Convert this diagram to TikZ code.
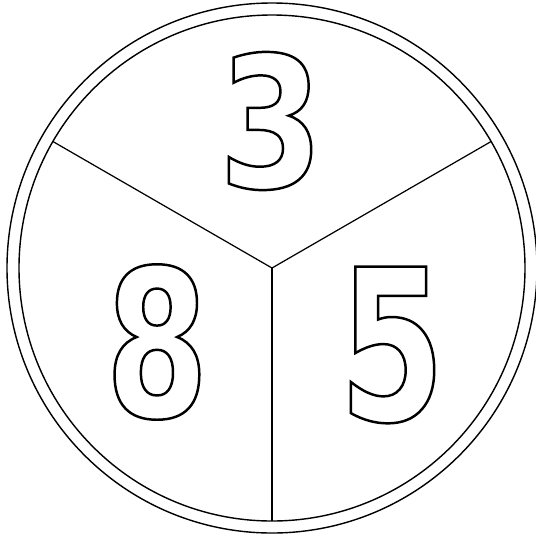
\documentclass[tikz,border=0pt]{standalone}
\usepackage{fontspec}
\usetikzlibrary{positioning}
\newfontfamily\digitfont{DejaVu Sans}[FakeStretch=0.72]
\newfontfamily\widedigitfont{DejaVu Sans}[FakeStretch=0.82]
\newcommand\hollow[1]{\special{pdf:literal direct 1 Tr 1.4 w}#1\special{pdf:literal direct 0 Tr}}

\begin{document}
\begin{tikzpicture}[
  x=0.02cm, y=0.02cm,
  ring/.style={draw, line width=0.8pt},
  divider/.style={draw, line width=0.7pt},
  numeral/.style={inner sep=0pt}
]
\useasboundingbox (-272,-267) rectangle (264,268);

% rings
\draw[ring] (0,0) circle (265);
\draw[ring] (0,0) circle (253);

% three sectors
\coordinate (hub) at (0,0);
\coordinate (tl) at (150:253);
\coordinate (tr) at (30:253);
\coordinate (bt) at (270:253);
\draw[divider] (hub)--(tl);
\draw[divider] (hub)--(tr);
\draw[divider] (hub)--(bt);

\node[numeral, font=\widedigitfont\bfseries\fontsize{104}{104}\selectfont] (three) at (-1,147) {\hollow{3}};
\node[numeral, font=\digitfont\bfseries\fontsize{117}{117}\selectfont] (eight) at (-115,-74) {\hollow{8}};
\node[numeral, font=\digitfont\bfseries\fontsize{120}{120}\selectfont] (five) at (120,-77) {\hollow{5}};

\end{tikzpicture}
\end{document}
